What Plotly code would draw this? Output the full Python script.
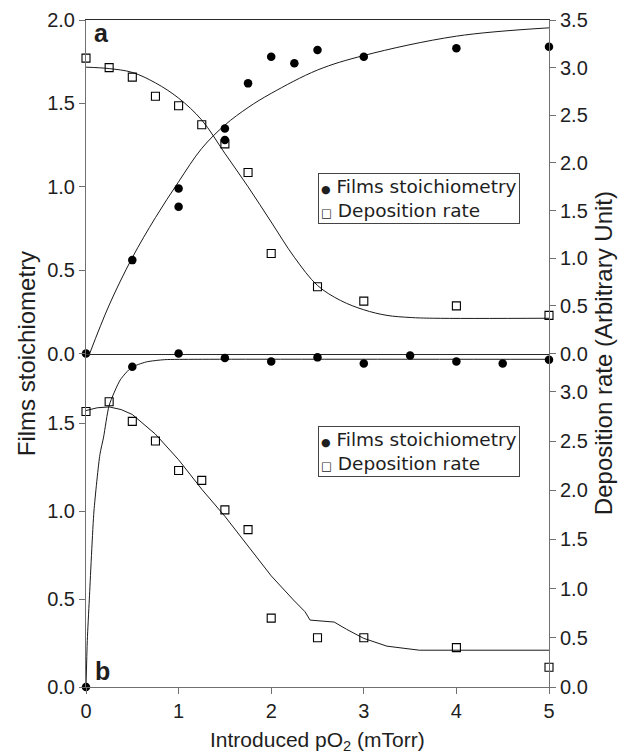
import plotly.graph_objects as go
from plotly.subplots import make_subplots

# ---------------- data ----------------
# Panel a: measured points
a_stoich_x = [0, 0.5, 1.0, 1.0, 1.5, 1.5, 1.75, 2.0, 2.25, 2.5, 3.0, 4.0, 5.0]
a_stoich_y = [0.0, 0.56, 0.99, 0.88, 1.35, 1.28, 1.62, 1.78, 1.74, 1.82, 1.78, 1.83, 1.84]
a_rate_x = [0, 0.25, 0.5, 0.75, 1.0, 1.25, 1.5, 1.75, 2.0, 2.5, 3.0, 4.0, 5.0]
a_rate_y = [3.1, 3.0, 2.9, 2.7, 2.6, 2.4, 2.2, 1.9, 1.05, 0.7, 0.55, 0.5, 0.4]

# Panel a: fitted curves
a_stoich_fit_x = [0.04, 0.25, 0.5, 0.75, 1.0, 1.25, 1.5, 1.75, 2.0, 2.5, 3.0, 4.0, 5.0]
a_stoich_fit_y = [0.0, 0.29, 0.575, 0.815, 1.03, 1.23, 1.37, 1.475, 1.56, 1.70, 1.787, 1.903, 1.953]
a_rate_fit_x = [0, 0.25, 0.5, 0.75, 1.0, 1.25, 1.5, 1.75, 2.0, 2.25, 2.5, 2.75, 3.0, 3.25, 3.5, 3.75, 5.0]
a_rate_fit_y = [3.005, 2.99, 2.95, 2.84, 2.68, 2.45, 2.10, 1.75, 1.38, 1.01, 0.714, 0.556, 0.459, 0.40, 0.378, 0.37, 0.37]

# Panel b: measured points
b_stoich_x = [0, 0.5, 1.0, 1.5, 2.0, 2.5, 3.0, 3.5, 4.0, 4.5, 5.0]
b_stoich_y = [0.0, 1.82, 1.895, 1.87, 1.85, 1.873, 1.838, 1.883, 1.849, 1.838, 1.86]
b_rate_x = [0, 0.25, 0.5, 0.75, 1.0, 1.25, 1.5, 1.75, 2.0, 2.5, 3.0, 4.0, 5.0]
b_rate_y = [2.8, 2.9, 2.7, 2.5, 2.2, 2.1, 1.8, 1.6, 0.7, 0.5, 0.5, 0.4, 0.2]

# Panel b: fitted curves
b_stoich_fit_x = [0, 0.014, 0.036, 0.086, 0.15, 0.19, 0.25, 0.37, 0.49, 0.65, 0.85, 1.2, 5.0]
b_stoich_fit_y = [0.0, 0.265, 0.5, 1.0, 1.32, 1.42, 1.60, 1.745, 1.815, 1.847, 1.86, 1.862, 1.862]
b_rate_fit_x = [0, 0.12, 0.25, 0.38, 0.5, 0.75, 1.0, 1.25, 1.5, 1.75, 2.0, 2.24, 2.365, 2.42,
                2.68, 2.815, 3.0, 3.25, 3.6, 5.0]
b_rate_fit_y = [2.81, 2.838, 2.847, 2.82, 2.77, 2.57, 2.31, 2.01, 1.735, 1.428, 1.13, 0.885, 0.765, 0.68,
                0.66, 0.586, 0.494, 0.415, 0.374, 0.374]

x_ticks = [0, 1, 2, 3, 4, 5]
left_ticks_a = [0.0, 0.5, 1.0, 1.5, 2.0]
right_ticks_a = [0.0, 0.5, 1.0, 1.5, 2.0, 2.5, 3.0, 3.5]
left_ticks_b = [0.0, 0.5, 1.0, 1.5]
right_ticks_b = [0.0, 0.5, 1.0, 1.5, 2.0, 2.5, 3.0]

names = ["Films stoichiometry", "Deposition rate"]
panel_labels = ["a", "b"]
x_title = "Introduced pO<sub>2</sub> (mTorr)"
y_title_left = "Films stoichiometry"
y_title_right = "Deposition rate (Arbitrary Unit)"

# ---------------- figure ----------------
FONT = "Liberation Sans, Arial, sans-serif"
LEGFONT = "DejaVu Sans, sans-serif"
AX = "#707070"
DARK = "#2a2a2a"
LINE = "#1a1a1a"
TXT = "#1e1e1e"

fig = make_subplots(rows=2, cols=1, shared_xaxes=True, vertical_spacing=0,
                    specs=[[{"secondary_y": True}], [{"secondary_y": True}]])

circle = dict(symbol="circle", size=8.5, color="black")
square = dict(symbol="square-open", size=8, color="black", line=dict(width=1.1, color="black"))

# panel a
fig.add_trace(go.Scatter(x=a_stoich_fit_x, y=a_stoich_fit_y, mode="lines",
                         line=dict(color=LINE, width=1, shape="spline"),
                         showlegend=False, hoverinfo="skip"), row=1, col=1, secondary_y=False)
fig.add_trace(go.Scatter(x=a_rate_fit_x, y=a_rate_fit_y, mode="lines",
                         line=dict(color=LINE, width=1, shape="spline"),
                         showlegend=False, hoverinfo="skip"), row=1, col=1, secondary_y=True)
fig.add_trace(go.Scatter(x=a_stoich_x, y=a_stoich_y, mode="markers", marker=circle, name=names[0],
                         showlegend=False, cliponaxis=False), row=1, col=1, secondary_y=False)
fig.add_trace(go.Scatter(x=a_rate_x, y=a_rate_y, mode="markers", marker=square, name=names[1],
                         showlegend=False, cliponaxis=False), row=1, col=1, secondary_y=True)

# panel b
fig.add_trace(go.Scatter(x=b_stoich_fit_x, y=b_stoich_fit_y, mode="lines",
                         line=dict(color=LINE, width=1, shape="spline", smoothing=0.6),
                         showlegend=False, hoverinfo="skip"), row=2, col=1, secondary_y=False)
fig.add_trace(go.Scatter(x=b_rate_fit_x, y=b_rate_fit_y, mode="lines", line=dict(color=LINE, width=1),
                         showlegend=False, hoverinfo="skip"), row=2, col=1, secondary_y=True)
fig.add_trace(go.Scatter(x=b_stoich_x, y=b_stoich_y, mode="markers", marker=circle, name=names[0],
                         showlegend=False, cliponaxis=False), row=2, col=1, secondary_y=False)
fig.add_trace(go.Scatter(x=b_rate_x, y=b_rate_y, mode="markers", marker=square, name=names[1],
                         showlegend=False, cliponaxis=False), row=2, col=1, secondary_y=True)

tickfont = dict(family=FONT, size=20, color=TXT)
common_y = dict(showline=True, linecolor=AX, linewidth=1, ticks="outside", ticklen=6, tickcolor=AX,
                tickfont=tickfont, showgrid=False, zeroline=False, tickformat=".1f", automargin=False)

legend_text = ("<span style='font-size:11px'>●</span> " + names[0] + "<br>"
               "<span style='font-size:11.5px'>□</span> " + names[1])

def legend_box(ypos):
    return dict(text=legend_text, xref="paper", yref="paper", x=0.501, y=ypos, xanchor="left", yanchor="top",
                align="left", showarrow=False, bgcolor="white", bordercolor="#444", borderwidth=1, borderpad=2,
                font=dict(family=LEGFONT, size=18.5, color=TXT))

# the page body has an 8px margin, so the figure is made 8px smaller and its margins are shifted
fig.update_layout(
    width=625, height=747,
    margin=dict(l=78, r=84, t=11.5, b=68.3, autoexpand=False),
    paper_bgcolor="white", plot_bgcolor="white",
    font=dict(family=FONT, color=TXT),
    showlegend=False,
    xaxis=dict(domain=[0, 1], range=[0, 5], showline=True, linecolor=DARK, mirror=True, ticks="",
               showticklabels=False, showgrid=False, zeroline=False, tickvals=x_ticks, automargin=False),
    xaxis2=dict(domain=[0, 1], range=[0, 5], showline=True, linecolor=AX, mirror=False, ticks="outside",
                ticklen=6, tickcolor=AX, tickvals=x_ticks, showticklabels=True, tickfont=tickfont,
                showgrid=False, zeroline=False, automargin=False),
    yaxis=dict(range=[0, 2.0], tickvals=left_ticks_a, **common_y),
    yaxis2=dict(range=[0, 3.5], tickvals=right_ticks_a, **common_y),
    yaxis3=dict(range=[0, 1.895], tickvals=left_ticks_b, **common_y),
    yaxis4=dict(range=[0, 3.39], tickvals=right_ticks_b, **common_y),
    annotations=[
        dict(text="<b>" + panel_labels[0] + "</b>", xref="paper", yref="paper", x=0.014, y=0.981,
             xanchor="left", yanchor="middle", showarrow=False, font=dict(family=FONT, size=25, color=TXT)),
        dict(text="<b>" + panel_labels[1] + "</b>", xref="paper", yref="paper", x=0.015, y=0.024,
             xanchor="left", yanchor="middle", showarrow=False, font=dict(family=FONT, size=25, color=TXT)),
        dict(text=y_title_left, xref="paper", yref="paper", x=-0.128, y=0.5, xanchor="center",
             yanchor="middle", textangle=-90, showarrow=False, font=dict(family=FONT, size=24, color=TXT)),
        dict(text=y_title_right, xref="paper", yref="paper", x=1.118, y=0.5,
             xanchor="center", yanchor="middle", textangle=-90, showarrow=False,
             font=dict(family=FONT, size=24, color=TXT)),
        dict(text=x_title, xref="paper", yref="paper", x=0.5, y=-0.0807, xanchor="center", yanchor="middle",
             showarrow=False, font=dict(family=FONT, size=21, color=TXT)),
        legend_box(0.7702),
        legend_box(0.3913),
    ],
)

fig.write_html("out.html")
